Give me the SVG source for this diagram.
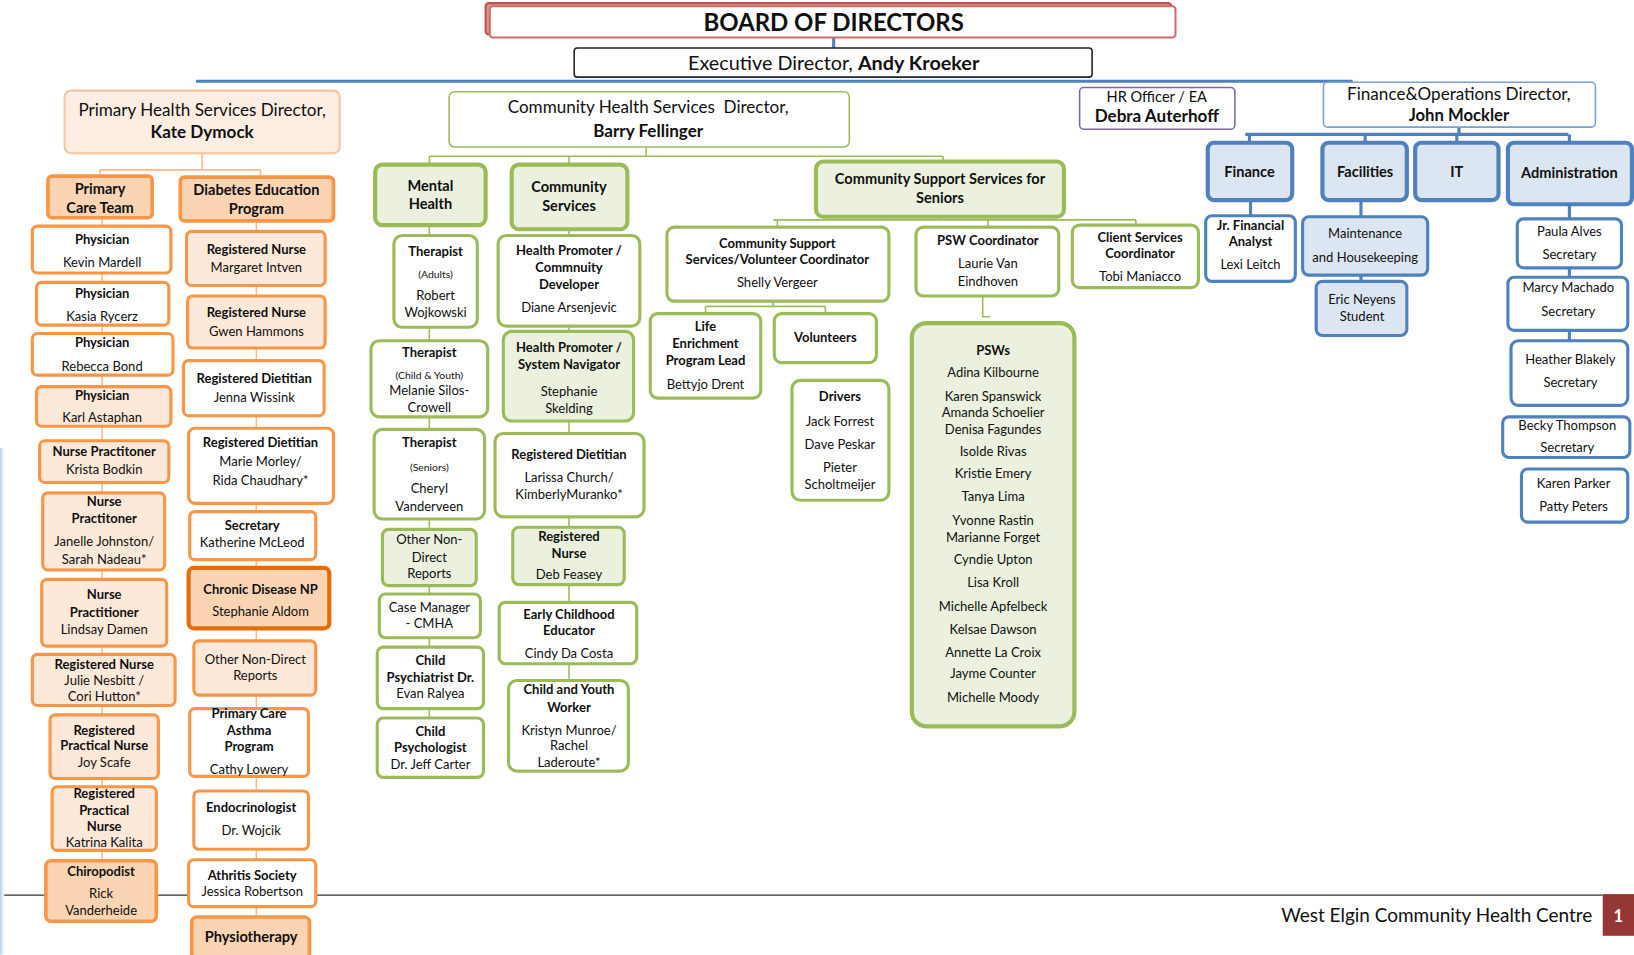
<svg xmlns="http://www.w3.org/2000/svg" width="1634" height="955" viewBox="0 0 1634 955">
<defs>
<style>
text{font-family:Lato,"Open Sans","Liberation Sans",sans-serif;fill:#101010;text-anchor:middle;font-size:12.5px}
.b{font-weight:700}
.sm{font-size:10px}
.h{font-size:14px;font-weight:700}
.d{font-size:16.4px}
.o1{fill:#fbd4b4;stroke:#f79646;stroke-width:3.5}
.o2{fill:#ffffff;stroke:#f79646;stroke-width:3}
.o3{fill:#fde9d9;stroke:#f79646;stroke-width:3}
.o4{fill:#fbd4b4;stroke:#e46c0a;stroke-width:4}
.g1{fill:#ebf1de;stroke:#9bbb59;stroke-width:4}
.g2{fill:#ffffff;stroke:#9bbb59;stroke-width:3}
.g3{fill:#ebf1de;stroke:#9bbb59;stroke-width:3}
.b1{fill:#dce6f2;stroke:#4f81bd;stroke-width:4}
.b2{fill:#ffffff;stroke:#4f81bd;stroke-width:3}
.b3{fill:#dce6f2;stroke:#4f81bd;stroke-width:3}
.co{stroke:#f9b98a;stroke-width:1.5;fill:none}
.cg{stroke:#9bbb59;stroke-width:1.5;fill:none}
.cb{stroke:#4f81bd;stroke-width:3;fill:none}
</style>
<linearGradient id="edge" x1="0" x2="1" y1="0" y2="0"><stop offset="0" stop-color="#a9cdee"/><stop offset="1" stop-color="#ffffff" stop-opacity="0"/></linearGradient>
</defs>
<rect width="1634" height="955" fill="#ffffff"/>
<g transform="scale(1.04209)">
<rect x="0" y="430" width="6" height="486" fill="url(#edge)"/>
<line x1="4" y1="859" x2="1538" y2="859" stroke="#333" stroke-width="1.2"/>

<g id="connectors">
<path class="cb" d="M800 36V46M188 78H1298M1400 122V129"/>
<path class="cb" stroke-width="4" d="M1195 129H1505M1199 129V137M1310 129V137M1398 129V137M1506 129V137M1200 192V207M1306 192V208"/>
<path class="cb" stroke-width="2" d="M1506 196V210M1506 257V266M1506 317V327M1306 264V270"/>
<path class="co" d="M194 147V163M96 163H250M96 163V169M250 163V170M98 209V217M98 262V271M98 312V320M98 360V371M98 409V423M98 463V473M98 547V556M98 620V628M98 677V686M98 747V755M98 816V826M246 212V222M246 274V284M246 334V346M246 399V411M246 483V491M246 537V545M246 603V615M246 667V680M246 745V759M246 815V825M246 870V880"/>
<path class="cg" d="M620 141V150M412 150H905M412 150V158M546 150V158M905 150V155M902 208V211M742 211H1090M746 211V218M948 211V218M1090 211V216M742 289V294M677 294H792M677 294V301M792 294V301M943 284V304H950M412 216V226M412 314V327M412 400V412M412 498V508M412 562V570M412 612V621M412 680V689M546 220V226M546 313V318M546 404V416M546 496V506M546 561V578M546 637V653"/>
</g>

<g id="board">
<rect x="466" y="3" width="658" height="30" rx="3" fill="#d99694" stroke="#c0504d" stroke-width="2"/>
<rect x="470" y="6" width="658" height="30" rx="3" fill="#ffffff" stroke="#d06d6a" stroke-width="2"/>
<text x="800" y="30" class="b" style="font-size:23px">BOARD OF DIRECTORS</text>
</g>
<g id="exec">
<rect x="551" y="46" width="497" height="28" rx="3" fill="#ffffff" stroke="#222" stroke-width="1.5"/>
<text x="800" y="67" style="font-size:19px">Executive Director, <tspan class="b">Andy Kroeker</tspan></text>
</g>

<g id="primary-director"><rect x="62" y="87" width="264" height="60" rx="6" fill="#fdeee4" stroke="#f8c49e" stroke-width="2"/><text x="194" y="111" class="d">Primary Health Services Director,</text><text x="194" y="132" class="d b">Kate Dymock</text></g>
<g id="primary-care-team"><rect x="46" y="169" width="100" height="40" rx="4" class="o1"/><text x="96" y="186" class="h">Primary</text><text x="96" y="204" class="h">Care Team</text></g>
<g id="diabetes"><rect x="173" y="170" width="147" height="42" rx="4" class="o1"/><text x="246" y="187" class="h">Diabetes Education</text><text x="246" y="205" class="h">Program</text></g>

<g id="p1"><rect x="31" y="217" width="133" height="45" rx="5" class="o2"/><text x="98" y="234" class="b">Physician</text><text x="98" y="256">Kevin Mardell</text></g>
<g id="p2"><rect x="35" y="271" width="127" height="41" rx="5" class="o2"/><text x="98" y="286" class="b">Physician</text><text x="98" y="308">Kasia Rycerz</text></g>
<g id="p3"><rect x="31" y="320" width="135" height="40" rx="5" class="o2"/><text x="98" y="333" class="b">Physician</text><text x="98" y="356">Rebecca Bond</text></g>
<g id="p4"><rect x="35" y="371" width="129" height="38" rx="5" class="o3"/><text x="98" y="384" class="b">Physician</text><text x="98" y="405">Karl Astaphan</text></g>
<g id="p5"><rect x="38" y="423" width="124" height="40" rx="5" class="o3"/><text x="100" y="438" class="b">Nurse Practitoner</text><text x="100" y="455">Krista Bodkin</text></g>
<g id="p6"><rect x="41" y="473" width="117" height="74" rx="5" class="o3"/><text x="100" y="486" class="b">Nurse</text><text x="100" y="502" class="b">Practitoner</text><text x="100" y="524">Janelle Johnston/</text><text x="100" y="541">Sarah Nadeau*</text></g>
<g id="p7"><rect x="40" y="556" width="120" height="64" rx="5" class="o3"/><text x="100" y="575" class="b">Nurse</text><text x="100" y="592" class="b">Practitioner</text><text x="100" y="608">Lindsay Damen</text></g>
<g id="p8"><rect x="31" y="628" width="137" height="49" rx="5" class="o3"/><text x="100" y="642" class="b">Registered Nurse</text><text x="100" y="657">Julie Nesbitt /</text><text x="100" y="673">Cori Hutton*</text></g>
<g id="p9"><rect x="48" y="686" width="104" height="61" rx="5" class="o3"/><text x="100" y="705" class="b">Registered</text><text x="100" y="720" class="b">Practical Nurse</text><text x="100" y="736">Joy Scafe</text></g>
<g id="p10"><rect x="50" y="755" width="100" height="61" rx="5" class="o3"/><text x="100" y="766" class="b">Registered</text><text x="100" y="782" class="b">Practical</text><text x="100" y="797" class="b">Nurse</text><text x="100" y="813">Katrina Kalita</text></g>
<g id="p11"><rect x="44" y="826" width="106" height="58" rx="5" class="o1"/><text x="97" y="841" class="b">Chiropodist</text><text x="97" y="862">Rick</text><text x="97" y="878">Vanderheide</text></g>

<g id="d1"><rect x="179" y="222" width="133" height="52" rx="5" class="o3"/><text x="246" y="244" class="b">Registered Nurse</text><text x="246" y="261">Margaret Intven</text></g>
<g id="d2"><rect x="180" y="284" width="132" height="50" rx="5" class="o3"/><text x="246" y="304" class="b">Registered Nurse</text><text x="246" y="322">Gwen Hammons</text></g>
<g id="d3"><rect x="176" y="346" width="135" height="53" rx="5" class="o2"/><text x="244" y="368" class="b">Registered Dietitian</text><text x="244" y="386">Jenna Wissink</text></g>
<g id="d4"><rect x="181" y="411" width="139" height="72" rx="6" class="o2"/><text x="250" y="429" class="b">Registered Dietitian</text><text x="250" y="447">Marie Morley/</text><text x="250" y="465">Rida Chaudhary*</text></g>
<g id="d5"><rect x="182" y="491" width="121" height="46" rx="5" class="o2"/><text x="242" y="509" class="b">Secretary</text><text x="242" y="525">Katherine McLeod</text></g>
<g id="d6"><rect x="181" y="545" width="135" height="58" rx="5" class="o4"/><text x="250" y="570" class="b">Chronic Disease NP</text><text x="250" y="591">Stephanie Aldom</text></g>
<g id="d7"><rect x="186" y="615" width="117" height="52" rx="5" class="o3"/><text x="245" y="637">Other Non-Direct</text><text x="245" y="653">Reports</text></g>
<g id="d8"><rect x="182" y="680" width="114" height="65" rx="5" class="o2"/><text x="239" y="689" class="b">Primary Care</text><text x="239" y="705" class="b">Asthma</text><text x="239" y="721" class="b">Program</text><text x="239" y="743">Cathy Lowery</text></g>
<g id="d9"><rect x="186" y="759" width="110" height="56" rx="5" class="o2"/><text x="241" y="779" class="b">Endocrinologist</text><text x="241" y="801">Dr. Wojcik</text></g>
<g id="d10"><rect x="181" y="825" width="122" height="45" rx="5" class="o2"/><text x="242" y="844" class="b">Athritis Society</text><text x="242" y="860">Jessica Robertson</text></g>
<g id="d11"><rect x="184" y="880" width="113" height="40" rx="5" class="o1"/><text x="241" y="904" class="h">Physiotherapy</text></g>

<g id="community-director"><rect x="431" y="88" width="384" height="53" rx="5" fill="#ffffff" stroke="#9bbb59" stroke-width="1.5"/><text x="622" y="108" class="d" xml:space="preserve">Community Health Services  Director,</text><text x="622" y="131" class="d b">Barry Fellinger</text></g>
<g id="mental-health"><rect x="360" y="158" width="106" height="58" rx="7" class="g1"/><text x="413" y="183" class="h">Mental</text><text x="413" y="201" class="h">Health</text></g>
<g id="community-services"><rect x="491" y="158" width="111" height="62" rx="7" class="g1"/><text x="546" y="184" class="h">Community</text><text x="546" y="202" class="h">Services</text></g>
<g id="seniors"><rect x="783" y="155" width="238" height="53" rx="7" class="g1"/><text x="902" y="177" class="h">Community Support Services for</text><text x="902" y="195" class="h">Seniors</text></g>

<g id="m1"><rect x="378" y="226" width="80" height="88" rx="8" class="g2"/><text x="418" y="246" class="b">Therapist</text><text x="418" y="267" class="sm">(Adults)</text><text x="418" y="288">Robert</text><text x="418" y="304">Wojkowski</text></g>
<g id="m2"><rect x="356" y="327" width="112" height="73" rx="8" class="g2"/><text x="412" y="343" class="b">Therapist</text><text x="412" y="364" class="sm">(Child &amp; Youth)</text><text x="412" y="379">Melanie Silos-</text><text x="412" y="395">Crowell</text></g>
<g id="m3"><rect x="359" y="412" width="106" height="86" rx="8" class="g2"/><text x="412" y="429" class="b">Therapist</text><text x="412" y="452" class="sm">(Seniors)</text><text x="412" y="473">Cheryl</text><text x="412" y="490">Vanderveen</text></g>
<g id="m4"><rect x="367" y="508" width="90" height="54" rx="6" class="g3"/><text x="412" y="522">Other Non-</text><text x="412" y="539">Direct</text><text x="412" y="555">Reports</text></g>
<g id="m5"><rect x="364" y="570" width="97" height="42" rx="6" class="g2"/><text x="412" y="587">Case Manager</text><text x="412" y="603">- CMHA</text></g>
<g id="m6"><rect x="362" y="621" width="102" height="59" rx="6" class="g2"/><text x="413" y="638" class="b">Child</text><text x="413" y="654" class="b">Psychiatrist Dr.</text><text x="413" y="670">Evan Ralyea</text></g>
<g id="m7"><rect x="362" y="689" width="102" height="57" rx="6" class="g2"/><text x="413" y="706" class="b">Child</text><text x="413" y="722" class="b">Psychologist</text><text x="413" y="738">Dr. Jeff Carter</text></g>

<g id="c1"><rect x="478" y="226" width="136" height="87" rx="8" class="g2"/><text x="546" y="245" class="b">Health Promoter /</text><text x="546" y="261" class="b">Commnuity</text><text x="546" y="277" class="b">Developer</text><text x="546" y="299">Diane Arsenjevic</text></g>
<g id="c2"><rect x="483" y="318" width="125" height="86" rx="8" class="g3"/><text x="546" y="338" class="b">Health Promoter /</text><text x="546" y="354" class="b">System Navigator</text><text x="546" y="380">Stephanie</text><text x="546" y="396">Skelding</text></g>
<g id="c3"><rect x="475" y="416" width="143" height="80" rx="8" class="g2"/><text x="546" y="440" class="b">Registered Dietitian</text><text x="546" y="463">Larissa Church/</text><text x="546" y="479">KimberlyMuranko*</text></g>
<g id="c4"><rect x="492" y="506" width="107" height="55" rx="6" class="g3"/><text x="546" y="519" class="b">Registered</text><text x="546" y="535" class="b">Nurse</text><text x="546" y="556">Deb Feasey</text></g>
<g id="c5"><rect x="479" y="578" width="132" height="59" rx="6" class="g2"/><text x="546" y="594" class="b">Early Childhood</text><text x="546" y="609" class="b">Educator</text><text x="546" y="631">Cindy Da Costa</text></g>
<g id="c6"><rect x="488" y="653" width="115" height="87" rx="8" class="g2"/><text x="546" y="666" class="b">Child and Youth</text><text x="546" y="683" class="b">Worker</text><text x="546" y="705">Kristyn Munroe/</text><text x="546" y="720">Rachel</text><text x="546" y="736">Laderoute*</text></g>

<g id="volunteer-coordinator"><rect x="640" y="218" width="213" height="71" rx="7" class="g2"/><text x="746" y="238" class="b">Community Support</text><text x="746" y="253" class="b">Services/Volunteer Coordinator</text><text x="746" y="275">Shelly Vergeer</text></g>
<g id="psw-coordinator"><rect x="879" y="218" width="137" height="66" rx="7" class="g2"/><text x="948" y="235" class="b">PSW Coordinator</text><text x="948" y="257">Laurie Van</text><text x="948" y="274">Eindhoven</text></g>
<g id="client-services"><rect x="1029" y="216" width="121" height="60" rx="7" class="g2"/><text x="1094" y="232" class="b">Client Services</text><text x="1094" y="248" class="b">Coordinator</text><text x="1094" y="270">Tobi Maniacco</text></g>
<g id="life-enrichment"><rect x="624" y="301" width="106" height="81" rx="7" class="g2"/><text x="677" y="318" class="b">Life</text><text x="677" y="334" class="b">Enrichment</text><text x="677" y="350" class="b">Program Lead</text><text x="677" y="373">Bettyjo Drent</text></g>
<g id="volunteers"><rect x="743" y="301" width="98" height="47" rx="7" class="g2"/><text x="792" y="328" class="b">Volunteers</text></g>
<g id="drivers"><rect x="760" y="365" width="93" height="115" rx="8" class="g2"/><text x="806" y="385" class="b">Drivers</text><text x="806" y="409">Jack Forrest</text><text x="806" y="431">Dave Peskar</text><text x="806" y="453">Pieter</text><text x="806" y="469">Scholtmeijer</text></g>
<g id="psws"><rect x="875" y="310" width="156" height="387" rx="14" class="g1"/>
<text x="953" y="341" class="b">PSWs</text><text x="953" y="362">Adina Kilbourne</text><text x="953" y="385">Karen Spanswick</text><text x="953" y="400">Amanda Schoelier</text><text x="953" y="416">Denisa Fagundes</text><text x="953" y="438">Isolde Rivas</text><text x="953" y="459">Kristie Emery</text><text x="953" y="481">Tanya Lima</text><text x="953" y="504">Yvonne Rastin</text><text x="953" y="520">Marianne Forget</text><text x="953" y="541">Cyndie Upton</text><text x="953" y="563">Lisa Kroll</text><text x="953" y="586">Michelle Apfelbeck</text><text x="953" y="608">Kelsae Dawson</text><text x="953" y="630">Annette La Croix</text><text x="953" y="651">Jayme Counter</text><text x="953" y="674">Michelle Moody</text></g>

<g id="hr"><rect x="1036" y="84" width="149" height="40" rx="4" fill="#ffffff" stroke="#8064a2" stroke-width="1.5"/><text x="1110" y="98" style="font-size:14px">HR Officer / EA</text><text x="1110" y="117" class="b" style="font-size:16.4px">Debra Auterhoff</text></g>
<g id="finance-director"><rect x="1270" y="79" width="261" height="43" rx="4" fill="#ffffff" stroke="#7aa0cf" stroke-width="1.5"/><text x="1400" y="96" style="font-size:16.4px">Finance&amp;Operations Director,</text><text x="1400" y="116" class="b" style="font-size:16px">John Mockler</text></g>
<g id="finance"><rect x="1159" y="137" width="81" height="55" rx="6" class="b1"/><text x="1199" y="170" class="h">Finance</text></g>
<g id="facilities"><rect x="1269" y="137" width="81" height="55" rx="6" class="b1"/><text x="1310" y="170" class="h">Facilities</text></g>
<g id="it"><rect x="1358" y="137" width="80" height="55" rx="6" class="b1"/><text x="1398" y="170" class="h">IT</text></g>
<g id="administration"><rect x="1447" y="137" width="119" height="59" rx="6" class="b1"/><text x="1506" y="171" class="h">Administration</text></g>
<g id="jr-analyst"><rect x="1157" y="207" width="86" height="63" rx="6" class="b2"/><text x="1200" y="221" class="b">Jr. Financial</text><text x="1200" y="236" class="b">Analyst</text><text x="1200" y="258">Lexi Leitch</text></g>
<g id="maintenance"><rect x="1250" y="208" width="120" height="56" rx="6" class="b3"/><text x="1310" y="228">Maintenance</text><text x="1310" y="251">and Housekeeping</text></g>
<g id="eric"><rect x="1263" y="270" width="87" height="52" rx="6" class="b3"/><text x="1307" y="292">Eric Neyens</text><text x="1307" y="308">Student</text></g>
<g id="paula"><rect x="1456" y="210" width="100" height="47" rx="6" class="b2"/><text x="1506" y="226">Paula Alves</text><text x="1506" y="249">Secretary</text></g>
<g id="marcy"><rect x="1447" y="266" width="115" height="51" rx="6" class="b2"/><text x="1505" y="280">Marcy Machado</text><text x="1505" y="303">Secretary</text></g>
<g id="heather"><rect x="1450" y="327" width="112" height="62" rx="7" class="b2"/><text x="1507" y="349">Heather Blakely</text><text x="1507" y="371">Secretary</text></g>
<g id="becky"><rect x="1442" y="400" width="122" height="39" rx="6" class="b2"/><text x="1504" y="413">Becky Thompson</text><text x="1504" y="434">Secretary</text></g>
<g id="karen"><rect x="1460" y="450" width="102" height="51" rx="6" class="b2"/><text x="1510" y="468">Karen Parker</text><text x="1510" y="490">Patty Peters</text></g>

<g id="footer">
<text x="1528" y="885" style="font-size:18.2px;text-anchor:end">West Elgin Community Health Centre</text>
<rect x="1538" y="858" width="30" height="40" fill="#953735"/>
<text x="1553" y="885" class="b" style="font-size:16px;fill:#ffffff">1</text>
</g>
</g>
</svg>
